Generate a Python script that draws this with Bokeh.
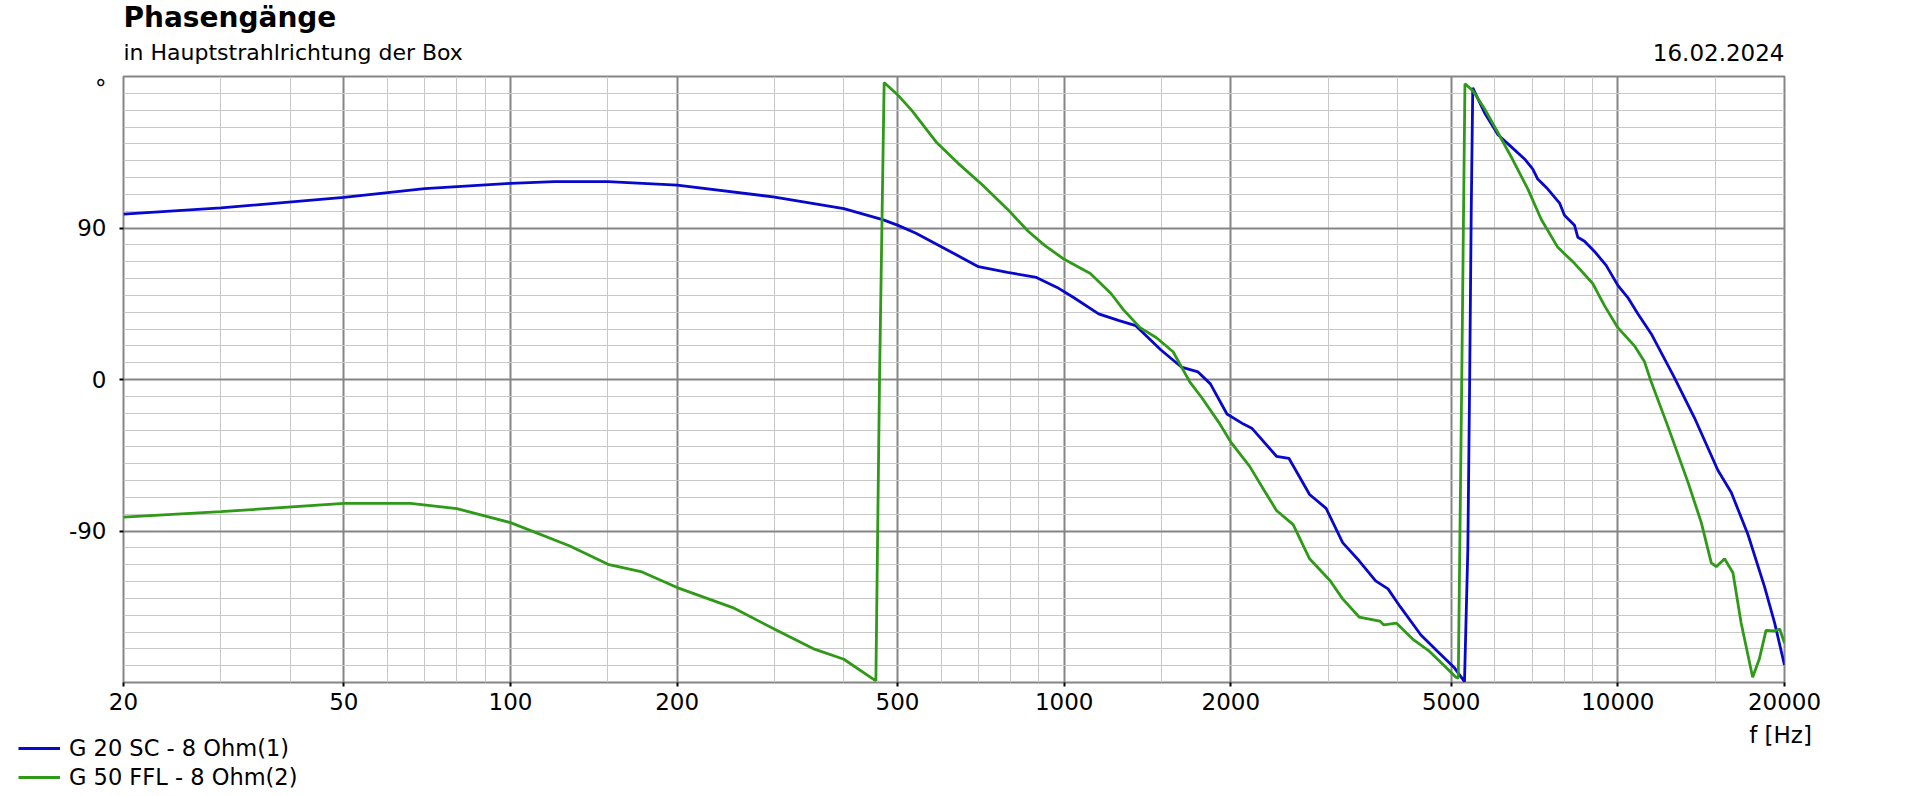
from bokeh.plotting import figure
from bokeh.layouts import column
from bokeh.models import (FixedTicker, PrintfTickFormatter, Label, Legend, LegendItem,
                          Range1d, LinearAxis)
from bokeh.embed import file_html
from bokeh.resources import INLINE

# ---------------- data ----------------
title = "Phasengänge"
subtitle = "in Hauptstrahlrichtung der Box"
date_text = "16.02.2024"
x_axis_label = "f [Hz]"
y_unit = "°"
series_names = ["G 20 SC - 8 Ohm(1)", "G 50 FFL - 8 Ohm(2)"]

x_ticks = [20, 50, 100, 200, 500, 1000, 2000, 5000, 10000, 20000]
x_minor = [30, 40, 60, 70, 80, 90, 150, 300, 400, 600, 700, 800, 900, 1500,
           3000, 4000, 6000, 7000, 8000, 9000, 15000]
y_ticks = [-90, 0, 90]
y_tick_labels = ["-90", "0", "90"]
y_unit_pos = 173
y_minor = list(range(-180, 181, 10))

freq_blue = [20, 30, 50, 70, 100, 120, 150, 200, 300, 400, 470, 500, 540, 631, 700,
             790, 891, 971, 1040, 1154, 1257, 1347, 1494, 1628, 1745, 1837, 1968,
             2108, 2182, 2418, 2546, 2775, 2973, 3184, 3410, 3652, 3845, 4048, 4409,
             4722, 5057, 5285, 5359, 5400, 5435, 5470, 5744, 6075, 6420, 6785, 7022,
             7166, 7474, 7848, 8010, 8350, 8468, 8706, 9075, 9526, 10000, 10425,
             10868, 11487, 12660, 13760, 15160, 16030, 17180, 18410, 19200, 20000]
phase_blue = [98.3, 101.9, 108.2, 113.4, 116.5, 117.5, 117.5, 115.5, 108.4, 101.5, 95,
              91.7, 86.9, 75, 67, 63.7, 60.6, 54.7, 48.7, 39, 35, 32, 17.7, 7.4, 4.5,
              -2.6, -20.5, -26.5, -28.9, -45.6, -46.8, -68.3, -76.6, -96.9, -107.7,
              -119.6, -124.4, -135.1, -151.8, -161.4, -170.9, -179.5, -101, 0, 99,
              173.3, 158.5, 145.4, 138.2, 131, 125, 119.1, 113.1, 104.8, 97.6, 91.7,
              84.5, 82.1, 76.1, 67.8, 55.9, 48.7, 39.1, 27.2, 1, -22.9, -53.9, -67.1,
              -92.1, -123.2, -144.7, -169.7]

freq_green = [20, 30, 50, 66, 80, 100, 128, 150, 172, 200, 252, 300, 354, 400, 457,
              464, 473, 500, 531, 589, 642, 712, 790, 861, 922, 1000, 1115, 1215,
              1279, 1371, 1468, 1573, 1686, 1774, 1901, 2000, 2163, 2298, 2418, 2592,
              2775, 3023, 3184, 3410, 3560, 3716, 3780, 3980, 4260, 4565, 4890, 5100,
              5150, 5225, 5295, 5470, 5744, 6075, 6420, 6880, 7270, 7790, 8350, 9010,
              9460, 10000, 10716, 11175, 11487, 12310, 13390, 14150, 14750, 15060,
              15590, 16140, 16700, 17520, 18010, 18520, 19200, 19600, 20000]
phase_green = [-81.7, -78.5, -73.6, -73.6, -76.7, -85, -98.9, -109.8, -114.1, -123.6,
               -135.5, -148.4, -160.2, -166.2, -179, 0, 176.4, 169.2, 159.7, 140.6,
               128.7, 115.5, 101.2, 88.1, 79.7, 71.4, 63, 51.1, 41.5, 30.8, 24.8, 16.5,
               -1.4, -11, -25.3, -37.2, -51.6, -65.9, -77.8, -86.2, -106.5, -119.6,
               -130.3, -141.1, -142.3, -143.5, -145.8, -144.7, -154.2, -161.4, -170.9,
               -176.9, -177.5, 0, 175.7, 171.6, 160.9, 146.6, 132.2, 113.1, 95.2, 78.5,
               69, 57, 43.9, 30.8, 20, 10.5, -1.4, -27.7, -61.1, -85, -108.9, -111.2,
               -106.5, -114.8, -144.7, -176.9, -166.1, -149, -149.4, -148.2, -156.6]

# ---------------- styling ----------------
FONT = "DejaVu Sans"
BLUE = "#0808CC"
GREEN = "#2E9A18"
MAJOR = "#858585"
MINOR = "#C8C8C8"
LW = 2.8

W = 1905
H_HDR, H_MAIN, H_FTR = 74, 648, 72
FRAME_L, FRAME_R = 123, 1784
NAN = float("nan")


def blank(height):
    f = figure(width=W, height=height, x_range=Range1d(0, W), y_range=Range1d(0, height),
               output_backend="svg", toolbar_location=None, min_border=0,
               x_axis_location=None, y_axis_location=None, frame_align=False)
    f.outline_line_color = None
    f.grid.grid_line_color = None
    f.background_fill_color = "white"
    f.border_fill_color = "white"
    return f


# ---- header ----
hdr = blank(H_HDR)
hdr.add_layout(Label(x=FRAME_L, y=H_HDR - 17, text=title, text_font=FONT,
                     text_font_style="bold", text_font_size="28px",
                     text_baseline="middle", text_align="left", text_color="black"))
hdr.add_layout(Label(x=FRAME_L, y=H_HDR - 52, text=subtitle, text_font=FONT,
                     text_font_size="22px", text_baseline="middle",
                     text_align="left", text_color="black"))
hdr.add_layout(Label(x=FRAME_R, y=H_HDR - 52, text=date_text, text_font=FONT,
                     text_font_size="23px", text_baseline="middle",
                     text_align="right", text_color="black"))

# ---- main chart ----
p = figure(width=W, height=H_MAIN, x_axis_type="log",
           x_range=Range1d(20, 20000), y_range=Range1d(-180, 180),
           output_backend="svg", toolbar_location=None, frame_align=False,
           min_border_left=FRAME_L, min_border_right=W - FRAME_R,
           min_border_top=2, min_border_bottom=40)
p.background_fill_color = "white"
p.border_fill_color = "white"
p.outline_line_color = MAJOR
p.outline_line_width = 2

p.line(freq_blue, phase_blue, line_color=BLUE, line_width=LW)
p.line(freq_green, phase_green, line_color=GREEN, line_width=LW)

p.xaxis.ticker = FixedTicker(ticks=x_ticks, minor_ticks=x_minor)
p.xaxis.formatter = PrintfTickFormatter(format="%d")
xa = p.xaxis[0]
xa.axis_line_color = None
xa.major_tick_line_color = "black"
xa.major_tick_line_width = 2
xa.major_tick_out = 4
xa.major_tick_in = 0
xa.minor_tick_line_color = None
xa.major_label_text_font = FONT
xa.major_label_text_font_size = "23px"
xa.major_label_text_color = "black"
xa.major_label_standoff = 6

# y: inner axis carries only the small tick marks, outer axis carries the labels
ya = p.yaxis[0]
ya.ticker = FixedTicker(ticks=y_ticks + [y_unit_pos], minor_ticks=y_minor)
overrides = {t: s for t, s in zip(y_ticks, y_tick_labels)}
overrides[y_unit_pos] = y_unit
ya.major_label_overrides = overrides
ya.axis_line_color = None
ya.major_tick_line_color = None
ya.major_tick_out = 0
ya.major_tick_in = 0
ya.minor_tick_line_color = None
ya.major_label_text_font = FONT
ya.major_label_text_font_size = "23px"
ya.major_label_text_color = "black"
ya.major_label_standoff = 9

tick_axis = LinearAxis(ticker=FixedTicker(ticks=y_ticks),
                       major_label_overrides={t: "" for t in y_ticks},
                       major_label_text_font_size="0px", major_label_standoff=0,
                       axis_line_color=None, minor_tick_line_color=None,
                       major_tick_line_color="black", major_tick_line_width=2,
                       major_tick_out=4, major_tick_in=0)
p.left = [tick_axis, ya]

p.xgrid.ticker = FixedTicker(ticks=x_ticks, minor_ticks=x_minor)
p.ygrid.ticker = FixedTicker(ticks=y_ticks, minor_ticks=y_minor)
for g in (p.xgrid[0], p.ygrid[0]):
    g.grid_line_color = MAJOR
    g.grid_line_width = 2
    g.minor_grid_line_color = MINOR
    g.minor_grid_line_width = 1

# ---- footer (legend + axis unit) ----
ftr = blank(H_FTR)
ftr.add_layout(Label(x=1780, y=H_FTR - 12, text=x_axis_label, text_font=FONT,
                     text_font_size="23px", text_baseline="middle",
                     text_align="center", text_color="black"))
s1 = ftr.line(x=[NAN], y=[NAN], line_color=BLUE, line_width=LW)
s2 = ftr.line(x=[NAN], y=[NAN], line_color=GREEN, line_width=LW)
legend = Legend(items=[LegendItem(label=series_names[0], renderers=[s1]),
                       LegendItem(label=series_names[1], renderers=[s2])],
                location=(18, 4), orientation="vertical",
                background_fill_alpha=0, border_line_color=None,
                label_text_font=FONT, label_text_font_size="22.5px",
                label_text_color="black",
                glyph_width=42, glyph_height=22, label_height=22,
                spacing=3, padding=0, margin=0, label_standoff=9)
ftr.add_layout(legend)

layout = column(hdr, p, ftr, spacing=0)
open("out.html", "w").write(file_html(layout, INLINE))
